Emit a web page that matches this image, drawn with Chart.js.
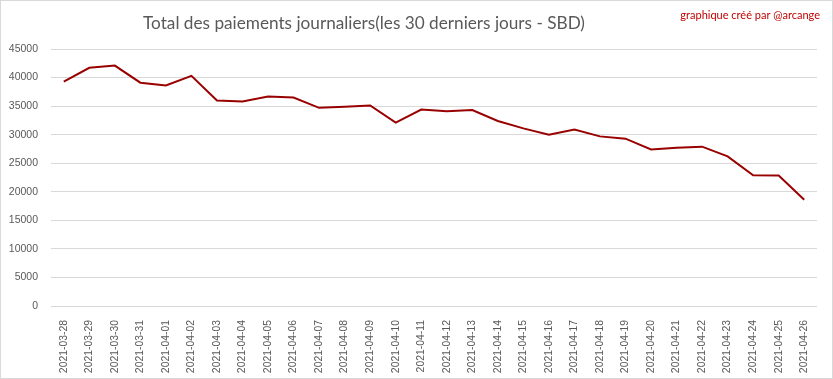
<!DOCTYPE html>
<html><head><meta charset="utf-8">
<script src="https://cdn.jsdelivr.net/npm/chart.js@4/dist/chart.umd.min.js"></script>
<style>html,body{margin:0;padding:0;background:#fff}#wrap{width:833px;height:379px;position:relative}</style>
</head><body><div id="wrap"><canvas id="c" width="833" height="379"></canvas></div>
<script>
const categories = ["2021-03-28","2021-03-29","2021-03-30","2021-03-31","2021-04-01","2021-04-02","2021-04-03","2021-04-04","2021-04-05","2021-04-06","2021-04-07","2021-04-08","2021-04-09","2021-04-10","2021-04-11","2021-04-12","2021-04-13","2021-04-14","2021-04-15","2021-04-16","2021-04-17","2021-04-18","2021-04-19","2021-04-20","2021-04-21","2021-04-22","2021-04-23","2021-04-24","2021-04-25","2021-04-26"];
const payments = [39300,41700,42100,39100,38600,40300,36000,35800,36700,36500,34700,34900,35100,32100,34400,34100,34300,32400,31100,30000,30900,29700,29300,27400,27700,27900,26200,22900,22850,18600];
const yTicks = [0,5000,10000,15000,20000,25000,30000,35000,40000,45000];
const titleText = "Total des paiements journaliers(les 30 derniers jours - SBD)";
const creditText = "graphique créé par @arcange";

const deco = {
  id:'deco',
  beforeDraw(chart){
    const ctx = chart.ctx;
    ctx.save();
    ctx.fillStyle='#fff'; ctx.fillRect(0,0,chart.width,chart.height);
    ctx.strokeStyle='#d9d9d9'; ctx.lineWidth=1;
    ctx.strokeRect(0.5,0.5,chart.width-1,chart.height-1);
    ctx.restore();
  },
  afterDraw(chart){
    const ctx = chart.ctx;
    ctx.save();
    ctx.textBaseline='middle';
    ctx.fillStyle='#595959';
    ctx.font='17.2px Lato';
    ctx.textAlign='center';
    ctx.fillText(titleText,364,23);
    ctx.fillStyle='#c00000';
    ctx.font='11px Lato';
    ctx.textAlign='right';
    ctx.fillText(creditText,820,15);
    ctx.restore();
  }
};

new Chart(document.getElementById('c'),{
  type:'line',
  data:{labels:categories,datasets:[{data:payments,borderColor:'#990000',borderWidth:2,pointRadius:0,tension:0,fill:false}]},
  options:{
    responsive:false,animation:false,
    layout:{padding:{top:49,right:16,left:0,bottom:0}},
    plugins:{legend:{display:false},tooltip:{enabled:false},title:{display:false}},
    scales:{
      x:{offset:true,grid:{display:false},border:{display:false},
         ticks:{autoSkip:false,maxRotation:90,minRotation:90,padding:6,color:'#595959',font:{family:'Liberation Sans',size:10.4}},
         afterFit(s){s.height=73;}},
      y:{min:0,max:45000,afterBuildTicks(s){s.ticks=yTicks.map(v=>({value:v}));},
         grid:{color:'#d9d9d9',drawTicks:false},border:{display:false},
         ticks:{padding:13,color:'#595959',font:{family:'Liberation Sans',size:10.5},callback:v=>String(v)},
         afterFit(s){s.width=51;}}
    }
  },
  plugins:[deco]
});
</script></body></html>
